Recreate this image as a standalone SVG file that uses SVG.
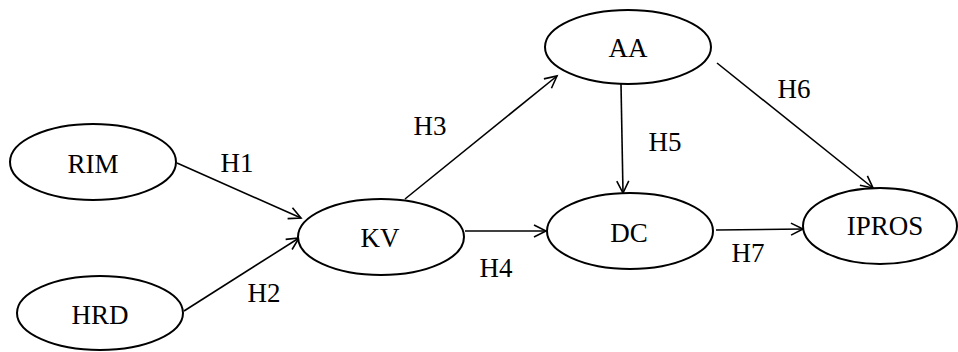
<svg xmlns="http://www.w3.org/2000/svg" width="958" height="352" viewBox="0 0 958 352">
<style>
.node{fill:#fff;stroke:#000;stroke-width:2}
.t{font-family:"Liberation Serif","Times New Roman",serif;font-size:27px;fill:#000;text-anchor:middle}
.c{stroke:#000;stroke-width:1.6;fill:none;marker-end:url(#arr)}
</style>
<defs>
<marker id="arr" markerUnits="userSpaceOnUse" markerWidth="16" markerHeight="16" refX="13" refY="7" orient="auto">
<path d="M1,1 L13,7 L1,13" fill="none" stroke="#000" stroke-width="1.6"/>
</marker>
</defs>
<rect width="958" height="352" fill="#fff"/>
<g id="connectors">
<line class="c" x1="177" y1="163" x2="301" y2="218"/>
<line class="c" x1="184" y1="311" x2="299" y2="238"/>
<line class="c" x1="405" y1="199" x2="557" y2="76"/>
<line class="c" x1="465" y1="231" x2="546" y2="231"/>
<line class="c" x1="621" y1="84" x2="623" y2="193"/>
<line class="c" x1="717" y1="63" x2="873" y2="188"/>
<line class="c" x1="716" y1="230" x2="803" y2="229"/>
<text class="t" x="237" y="172">H1</text>
<text class="t" x="264" y="302">H2</text>
<text class="t" x="430" y="135">H3</text>
<text class="t" x="496" y="277">H4</text>
<text class="t" x="665" y="151">H5</text>
<text class="t" x="794" y="98">H6</text>
<text class="t" x="748" y="262">H7</text>
</g>
<g id="RIM"><ellipse class="node" cx="93" cy="162" rx="83" ry="38"/><text class="t" x="93" y="173">RIM</text></g>
<g id="HRD"><ellipse class="node" cx="100" cy="313" rx="83" ry="37"/><text class="t" x="100" y="324">HRD</text></g>
<g id="KV"><ellipse class="node" cx="381" cy="237" rx="83" ry="38"/><text class="t" x="380" y="247">KV</text></g>
<g id="AA"><ellipse class="node" cx="628" cy="47" rx="83" ry="37"/><text class="t" x="628" y="57">AA</text></g>
<g id="DC"><ellipse class="node" cx="630" cy="231" rx="83" ry="38"/><text class="t" x="629" y="242">DC</text></g>
<g id="IPROS"><ellipse class="node" cx="880" cy="226" rx="77" ry="38"/><text class="t" x="885" y="235">IPROS</text></g>
</svg>
